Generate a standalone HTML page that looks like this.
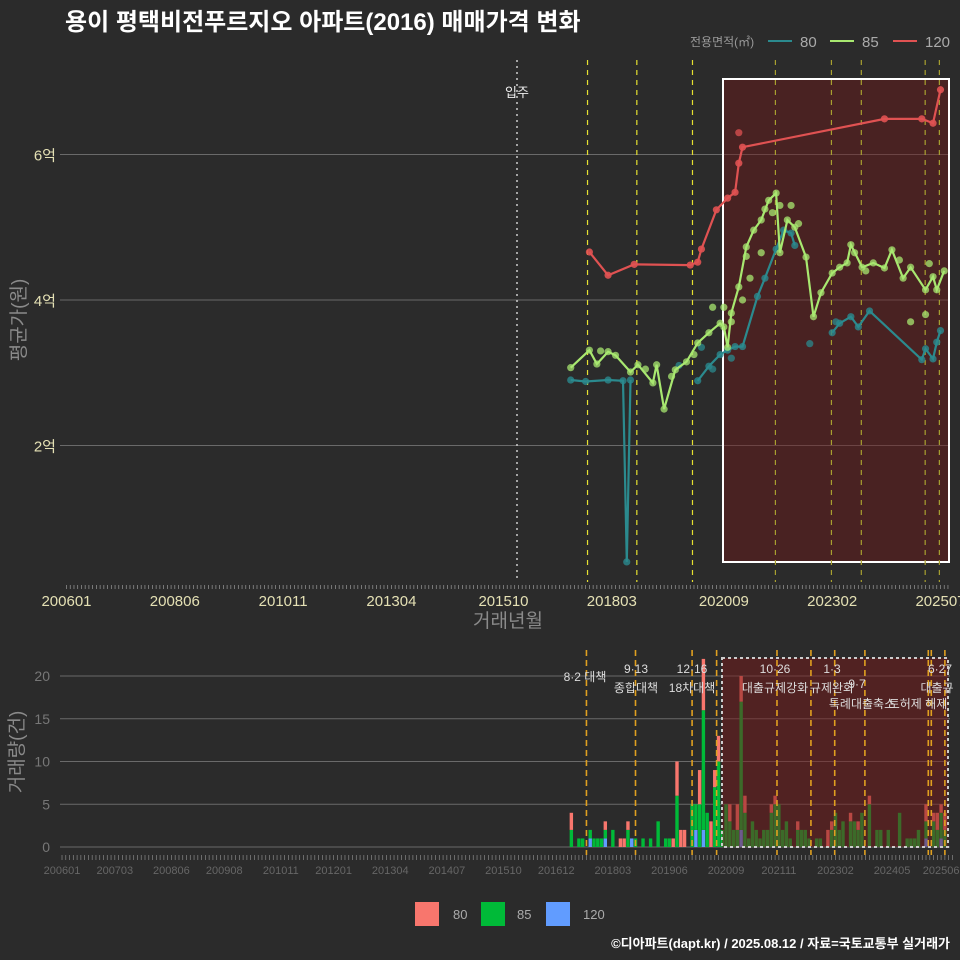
<!DOCTYPE html>
<html><head><meta charset="utf-8"><style>
body{margin:0;background:#2b2b2b;}
svg{display:block;font-family:"Liberation Sans","Noto Sans CJK KR",sans-serif;}
</style></head><body>
<svg id="c" width="960" height="960" viewBox="0 0 960 960">
<rect width="960" height="960" fill="#2b2b2b"/>
<text x="65" y="30" fill="#fff" font-size="24" font-weight="bold">용이 평택비전푸르지오 아파트(2016) 매매가격 변화</text>
<g>
<text x="690" y="46" fill="#999" font-size="12">전용면적(㎡)</text>
<line x1="768" y1="41" x2="792" y2="41" stroke="#2b8a8e" stroke-width="2"/><text x="800" y="47" fill="#aaa" font-size="15">80</text>
<line x1="830" y1="41" x2="854" y2="41" stroke="#a8e870" stroke-width="2"/><text x="862" y="47" fill="#aaa" font-size="15">85</text>
<line x1="893" y1="41" x2="917" y2="41" stroke="#e05252" stroke-width="2"/><text x="925" y="47" fill="#aaa" font-size="15">120</text>
</g>
<g id="main"></g>
<g id="bot"></g>
<text x="508" y="627" fill="#8a8a8a" font-size="19" text-anchor="middle">거래년월</text>
<text transform="translate(25,320) rotate(-90)" fill="#8a8a8a" font-size="19" text-anchor="middle">평균가(원)</text>
<text transform="translate(23,752) rotate(-90)" fill="#8a8a8a" font-size="19" text-anchor="middle">거래량(건)</text>
<g>
<rect x="415" y="902" width="24" height="24" fill="#F8766D"/><text x="453" y="919" fill="#aaa" font-size="13">80</text>
<rect x="481" y="902" width="24" height="24" fill="#00BA38"/><text x="517" y="919" fill="#aaa" font-size="13">85</text>
<rect x="546" y="902" width="24" height="24" fill="#619CFF"/><text x="583" y="919" fill="#aaa" font-size="13">120</text>
</g>
<text x="950" y="948" fill="#fff" font-size="13" font-weight="bold" text-anchor="end">©디아파트(dapt.kr) / 2025.08.12 / 자료=국토교통부 실거래가</text>
</svg>
<script>
// month index = months since 2006-01
const p120M=[140,145,152,167,169,170,174,177,179,180,181,219,229,232,234];
const p120V=[4.66,4.34,4.49,4.48,4.52,4.70,5.24,5.40,5.48,5.88,6.10,6.49,6.49,6.43,6.89];
const p85M=[135,140,142,145,147,151,153,157,158,160,163,166,169,172,175,176,177,178,180,182,184,186,188,190,191,193,195,198,200,202,205,207,209,210,213,216,219,221,224,226,230,232,233,235];
const p85V=[3.07,3.31,3.12,3.29,3.24,3.01,3.11,2.86,3.11,2.50,3.04,3.15,3.41,3.55,3.68,3.63,3.35,3.82,4.18,4.73,4.96,5.10,5.37,5.47,4.65,5.10,5.00,4.59,3.77,4.10,4.37,4.45,4.51,4.76,4.45,4.51,4.44,4.69,4.30,4.45,4.14,4.32,4.14,4.40];
const p80M=[135,139,145,149,150,151,167,169,172,175,177,179,181,185,187,190,192,194,195,203,205,207,210,212,215,229,230,232,233,234];
const p80V=[2.90,2.88,2.90,2.89,0.4,2.90,null,2.89,3.09,3.25,3.31,3.36,3.36,4.05,4.30,4.70,4.96,4.92,4.75,null,3.55,3.68,3.77,3.63,3.85,3.18,3.33,3.19,3.42,3.58];
const extraPts=[[206,3.7,'#2b8a8e'],[199,3.4,'#2b8a8e'],[180,6.3,'#e05252'],[226,3.7,'#a8e870'],[186,4.65,'#a8e870'],[194,5.3,'#a8e870'],[182,4.6,'#a8e870'],[230,3.8,'#a8e870'],[173,3.9,'#a8e870'],[178,3.2,'#2b8a8e'],[176,3.9,'#a8e870'],[178,3.7,'#a8e870'],[181,4.0,'#a8e870'],[183,4.3,'#a8e870'],[187,5.25,'#a8e870'],[189,5.2,'#a8e870'],[191,5.3,'#a8e870'],[196,5.05,'#a8e870'],[211,4.65,'#a8e870'],[214,4.4,'#a8e870'],[223,4.55,'#a8e870'],[231,4.5,'#a8e870'],[168,3.25,'#a8e870'],[170,3.35,'#2b8a8e'],[173,3.05,'#2b8a8e'],[143,3.3,'#a8e870'],[155,3.05,'#a8e870'],[162,2.95,'#a8e870'],[164,3.1,'#2b8a8e']];
const mainTickL=['200601','200806','201011','201304','201510','201803','202009','202302','202507'];
const yTicks=[2,4,6];
const yTickL=['2억','4억','6억'];
const policyM=[139.5,152.7,167.6,189.8,204.8,212.8,229.9,233.7];
// volume bars
const volM=[135,137,138,140,141,142,143,144,146,148,149,150,151,152,154,156,158,160,161,162,163,164,165,167,168,169,170,171,172,173,174,175,176,177,178,179,180,181,182,183,184,185,186,187,188,189,190,191,192,193,195,196,197,198,200,201,203,204,205,206,207,209,210,211,212,214,216,217,219,222,224,225,226,227,229,231,232,233,234];
const vol85=[2,1,1,1,1,1,1,1,2,0,0,2,0,1,1,1,3,1,1,0,6,0,0,5,3,5,14,4,0,7,10,2,5,3,2,2,15,4,1,3,2,1,2,2,4,5,5,2,3,1,2,2,2,1,1,1,0,2,4,2,3,3,3,2,4,5,2,2,2,4,1,1,1,2,2,3,2,3,2];
const vol80=[2,0,0,0,0,0,0,1,0,1,1,1,0,0,0,0,0,0,0,1,4,2,2,0,0,4,6,0,3,2,3,0,0,2,0,3,3,2,0,0,0,0,0,0,1,1,0,0,0,0,1,0,0,0,0,0,2,1,0,0,0,1,0,1,0,1,0,0,0,0,0,0,0,0,2,1,2,1,2];
const vol120=[0,0,0,1,0,0,0,1,0,0,0,0,1,0,0,0,0,0,0,0,0,0,0,0,2,0,2,0,0,0,0,0,0,0,0,0,2,0,0,0,0,0,0,0,0,0,0,0,0,0,0,0,0,0,0,0,0,0,0,0,0,0,0,0,0,0,0,0,0,0,0,0,0,0,1,0,0,1,0];
const volTicks=[0,5,10,15,20];
const botTickL=['200601','200703','200806','200908','201011','201201','201304','201407','201510','201612','201803','201906','202009','202111','202302','202405','202506'];
const botPolicyM=[139,152,167,173.5,189.5,198.5,204.8,212.8,229.6,230.4,234];

const NS='http://www.w3.org/2000/svg';
function mk(parent,tag,attrs,text){const e=document.createElementNS(NS,tag);for(const k in attrs)e.setAttribute(k,attrs[k]);if(text!==undefined)e.textContent=text;parent.appendChild(e);return e;}
const toM=s=>(+s.slice(0,4)-2006)*12+(+s.slice(4)-1);
const xM=m=>66.5+m*3.735, yM=v=>300-(v-4)*72.75;
const xB=m=>62+m*3.773, yB=v=>847-v*8.55;
const main=document.getElementById('main'), bot=document.getElementById('bot');

yTicks.forEach((t,i)=>{
 const g=mk(main,'line',{x1:60,x2:950,y1:yM(t),y2:yM(t),stroke:'#6a6a6a','stroke-width':1});
 
 
 const l=mk(main,'text',{x:56,y:yM(t)+6,fill:'#e4e0b4','font-size':15,'text-anchor':'end'},yTickL[i]);
 
 
});
for(let m=0;m<=236;m++){mk(main,'line',{x1:xM(m),x2:xM(m),y1:585,y2:589,stroke:'#999','stroke-width':0.7});}
mainTickL.forEach(s=>{
 const l=mk(main,'text',{x:xM(toM(s)),y:606,fill:'#e4e0b4','font-size':15,'text-anchor':'middle'},s);
 
 
});
const mv=mk(main,'line',{x1:517,x2:517,y1:60,y2:582,stroke:'#ccc','stroke-dasharray':'2,4','stroke-width':1.5});


mk(main,'text',{x:517,y:97,fill:'#eee','font-size':13,'text-anchor':'middle'},'입주');
const hr=mk(main,'rect',{x:723,y:79,width:226,height:483,fill:'rgba(110,25,25,0.45)',stroke:'#fff','stroke-width':2});


policyM.forEach(m=>{
 const l=mk(main,'line',{x1:xM(m),x2:xM(m),y1:60,y2:582,stroke:(m>176?'#a8a030':'#e6e030'),'stroke-dasharray':'5,5','stroke-width':1.2});
 
 
});
function series(M,V,color,name,op){
 let d='',pen=false;
 M.forEach((m,i)=>{if(V[i]===null){pen=false;return;}d+=(pen?'L':'M')+xM(m).toFixed(1)+','+yM(V[i]).toFixed(1);pen=true;});
 M.forEach((m,i)=>{if(V[i]===null)return;const c=mk(main,'circle',{cx:xM(m),cy:yM(V[i]),r:3.6,fill:color,opacity:op});
  
  });
 const p=mk(main,'path',{d:d,fill:'none',stroke:color,'stroke-width':2.2});
 
 
}
extraPts.forEach(e=>{const c=mk(main,'circle',{cx:xM(e[0]),cy:yM(e[1]),r:3.6,fill:e[2],opacity:0.75});
 
 });
series(p80M,p80V,'#2b8a8e','size-80',0.8);
series(p85M,p85V,'#a8e870','size-85',0.75);
series(p120M,p120V,'#e05252','size-120',0.9);

volTicks.forEach(t=>{
 const g=mk(bot,'line',{x1:60,x2:950,y1:yB(t),y2:yB(t),stroke:'#6a6a6a','stroke-width':1});
 
 
 const l=mk(bot,'text',{x:50,y:yB(t)+5,fill:'#777','font-size':14,'text-anchor':'end'},String(t));
 
 
});
for(let m=0;m<=236;m++){mk(bot,'line',{x1:xB(m),x2:xB(m),y1:855,y2:860,stroke:'#888','stroke-width':0.7});}
botTickL.forEach(s=>{
 const l=mk(bot,'text',{x:xB(toM(s)),y:874,fill:'#666','font-size':11,'text-anchor':'middle'},s);
 
 
});
volM.forEach((m,i)=>{
 let base=0;const w=3.4,x=xB(m)-w/2;
 [[vol120[i],'#619CFF','bar-120'],[vol85[i],'#00BA38','bar-85'],[vol80[i],'#F8766D','bar-80']].forEach(s=>{
  if(!s[0])return;
  const r=mk(bot,'rect',{x:x,y:yB(base+s[0]),width:w,height:s[0]*8.55,fill:s[1]});
  
  
  base+=s[0];
 });
});
const br=mk(bot,'rect',{x:722,y:658,width:226,height:189,fill:'rgba(120,25,25,0.5)',stroke:'#ccc','stroke-dasharray':'3,3','stroke-width':2});


botPolicyM.forEach(m=>{
 const l=mk(bot,'line',{x1:xB(m),x2:xB(m),y1:650,y2:855,stroke:'#e0a020','stroke-dasharray':'6,4','stroke-width':1.6});
 
 
});
[[585,681,'8·2 대책'],[636,673,'9·13'],[636,692,'종합대책'],[692,673,'12·16'],[692,692,'18차대책'],[775,673,'10·26'],[775,692,'대출규제강화'],[832,673,'1·3'],[832,692,'규제완화'],[857,688,'9·7'],[862,708,'특례대출축소'],[918,708,'토허제 해제'],[940,673,'6·27'],[937,692,'대출규']].forEach(a=>{
 const t=mk(bot,'text',{x:a[0],y:a[1],fill:'#ddd','font-size':12,'text-anchor':'middle'},a[2]);
 
 
});
</script>
</body></html>
